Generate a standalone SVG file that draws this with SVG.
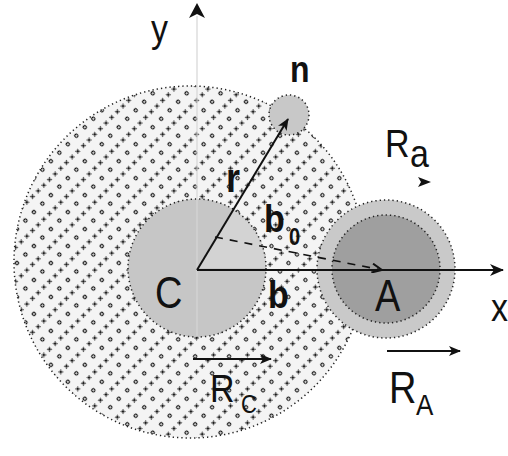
<svg xmlns="http://www.w3.org/2000/svg" width="508" height="456" viewBox="0 0 508 456">
<style>
.lbl{font-family:"Liberation Sans",Arial,sans-serif;fill:#111}
.bold{font-weight:bold}
.dotb{stroke:#222;stroke-width:1.5;stroke-dasharray:1.3 3;fill:none}
.vec{stroke:#111;stroke-width:2;fill:none}
</style>
<defs>
<pattern id="hatch" patternUnits="userSpaceOnUse" width="24" height="24" patternTransform="rotate(-45)">
<rect x="0" y="0" width="24" height="24" fill="#f4f4f4"/>
<g fill="#f8f8f8" stroke="#111" stroke-width="1.1">
<circle cx="6" cy="6" r="1.6"/>
<circle cx="18" cy="6" r="1.6"/>
</g>
<g stroke="#111" stroke-width="1.1" fill="none">
<path transform="translate(4,18) rotate(45)" d="M-2.3,0h4.6M0,-2.3v4.6"/>
<path transform="translate(12,18) rotate(45)" d="M-2.3,0h4.6M0,-2.3v4.6"/>
<path transform="translate(20,18) rotate(45)" d="M-2.3,0h4.6M0,-2.3v4.6"/>
</g>
</pattern>
<marker id="fillArrow" viewBox="0 0 12 10" refX="11" refY="5" markerWidth="12" markerHeight="10" markerUnits="userSpaceOnUse" orient="auto">
<path d="M0,0 L12,5 L0,10 L3,5 Z" fill="#111"/>
</marker>
<marker id="axisArrow" viewBox="0 0 14 14" refX="13" refY="7" markerWidth="14" markerHeight="14" markerUnits="userSpaceOnUse" orient="auto">
<path d="M0,1 L14,7 L0,13 L4,7 Z" fill="#111"/>
</marker>
<marker id="openArrow" viewBox="0 0 12 10" refX="11" refY="5" markerWidth="12" markerHeight="10" markerUnits="userSpaceOnUse" orient="auto">
<path d="M1,0.5 L11,5 L1,9.5" fill="none" stroke="#111" stroke-width="2"/>
</marker>
</defs>

<g id="region-hatched">
<circle cx="190" cy="262" r="176" fill="url(#hatch)"/>
<circle cx="190" cy="262" r="176" class="dotb"/>
</g>

<g id="node-C">
<circle cx="197" cy="268" r="69" fill="#c6c6c6"/>
<path d="M197,268 L266,268 A69,69 0 0 0 232.6,209 Z" fill="#d3d3d3"/>
<circle cx="197" cy="268" r="69" class="dotb"/>
</g>

<g id="node-A">
<circle cx="386" cy="269" r="69" fill="#c9c9c9"/>
<circle cx="386" cy="269" r="69" class="dotb"/>
<circle cx="386" cy="269" r="54" fill="#9f9f9f"/>
<circle cx="386" cy="269" r="54" class="dotb"/>
</g>

<g id="node-n">
<circle cx="289" cy="115" r="20" fill="#c8c8c8"/>
<circle cx="289" cy="115" r="20" class="dotb"/>
</g>

<g id="connectors">
<line id="y-axis" x1="197" y1="16" x2="197" y2="337" stroke="#d6d6d6" stroke-width="1.2"/>
<path d="M197,3 L205,18 L197,14 L189,18 Z" fill="#111"/>
<line id="x-axis" x1="197" y1="270" x2="503" y2="270" stroke="#111" stroke-width="2" marker-end="url(#axisArrow)"/>
<line id="r-vec" x1="197" y1="270" x2="288" y2="119" class="vec" marker-end="url(#fillArrow)"/>
<line id="b0-vec" x1="215" y1="237" x2="382" y2="270" stroke="#111" stroke-width="1.6" stroke-dasharray="8 7" marker-end="url(#openArrow)"/>
<line id="RA-vec" x1="387" y1="351" x2="460" y2="351" class="vec" marker-end="url(#fillArrow)"/>
<line id="RC-vec" x1="193" y1="359" x2="271" y2="359" class="vec" marker-end="url(#fillArrow)"/>
<path id="Ra-arrow" d="M418,177 L431,182 L418,187 L421,182 Z" fill="#111"/>
</g>

<g id="labels">
<text class="lbl" font-size="34" transform="translate(151,42) scale(1,1.15)">y</text>
<text class="lbl bold" font-size="32" transform="translate(290,82) scale(1,1.15)">n</text>
<text class="lbl" font-size="38" transform="translate(155,308) scale(1,1.15)">C</text>
<text class="lbl" font-size="38" transform="translate(375,311) scale(1,1.15)">A</text>
<text class="lbl" font-size="34" transform="translate(491,321) scale(1,1.15)">x</text>
<text class="lbl bold" font-size="36" transform="translate(226,192) scale(1,1.15)">r</text>
<text class="lbl bold" font-size="34" transform="translate(264,232) scale(1,1.15)">b</text>
<text class="lbl bold" font-size="20" transform="translate(289,245) scale(1,1.15)">0</text>
<text class="lbl bold" font-size="34" transform="translate(268,308) scale(1,1.15)">b</text>
<text class="lbl" font-size="34" transform="translate(385,157) scale(1,1.15)">R</text>
<text class="lbl" font-size="34" transform="translate(410,167) scale(1,1.15)">a</text>
<text class="lbl" font-size="38" transform="translate(389,403) scale(1,1.15)">R</text>
<text class="lbl" font-size="26" transform="translate(416,415) scale(1,1.15)">A</text>
<text class="lbl" font-size="34" transform="translate(210,402) scale(1,1.15)">R</text>
<text class="lbl" font-size="22" transform="translate(241,413) scale(1,1.15)">C</text>
</g>
</svg>
